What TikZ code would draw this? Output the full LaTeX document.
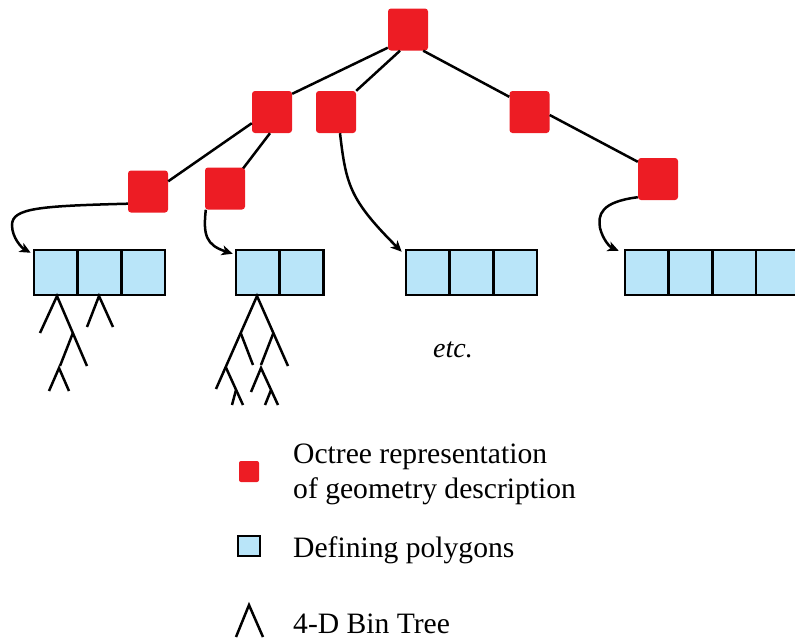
\documentclass[tikz,border=0pt]{standalone}
\usepackage{fontspec}
\setmainfont{Liberation Serif}
\usetikzlibrary{arrows.meta,calc}
\definecolor{octred}{RGB}{237,28,36}
\definecolor{polyblue}{RGB}{185,229,249}
\begin{document}
\begin{tikzpicture}[x=1pt,y=-1pt,
  oct/.style={fill=octred, rounded corners=3pt, minimum width=40pt, minimum height=42pt, inner sep=0pt},
  cell/.style={draw=black, fill=polyblue, line width=2.5pt, minimum width=43.7pt, minimum height=45pt, inner sep=0pt},
  link/.style={line width=2.5pt},
  curv/.style={line width=2.5pt, -{Stealth[length=11pt,width=10pt,inset=3pt]}},
  bin/.style={line width=2.5pt},
  lbl/.style={font=\fontsize{29.6}{35}\selectfont, anchor=base west, inner sep=0pt}
]
\useasboundingbox (0,0) rectangle (795,641);
\clip (0,0) rectangle (795,641);

% octree nodes
\node[oct] (root) at (408,29.5) {};
\node[oct] (lm) at (272,112) {};
\node[oct] (mm) at (336,112) {};
\node[oct] (rm) at (529.5,112) {};
\node[oct] (fr) at (658,179) {};
\node[oct] (la) at (148,191.5) {};
\node[oct] (lb) at (225,188.5) {};

% tree edges
\draw[link] ($(root.south west)+(0,-3)$) -- ($(lm.north east)+(0,3)$);
\draw[link] ($(root.south)+(-8,0)$) -- (mm.north east);
\draw[link] ($(root.south east)+(-5,0)$) -- ($(rm.north west)+(0,6)$);
\draw[link] ($(rm.east)+(0,3)$) -- ($(fr.north west)+(0,4)$);
\draw[link] ($(lm.south west)+(0,-10)$) -- ($(la.north east)+(0,11)$);
\draw[link] ($(lm.south)+(-2,0)$) -- ($(lb.north east)+(-2,1)$);

% polygon cells
\foreach \n/\x in {a1/55.8,a2/99.5,a3/143.2,b1/257.8,b2/301.5,c1/427.8,c2/471.5,c3/515.2,d1/646.8,d2/690.5,d3/734.2,d4/777.9}
  \node[cell] (\n) at (\x,272.5) {};

% curved arrows
\draw[curv] ($(la.south west)+(0,-9)$) .. controls (40,206) and (12,208) .. (12,225)
  .. controls (12,238) and (22,248) .. ($(a1.north west)+(-2,4)$);
\draw[curv] ($(lb.south west)+(1,0)$) .. controls (203,235) and (206,245) .. ($(b1.north west)+(-2,5)$);
\draw[curv] ($(mm.south)+(4,0)$) .. controls (346,185) and (350,200) .. ($(c1.north west)+(-3,3)$);
\draw[curv] ($(fr.south west)+(0,-3)$) .. controls (600,202) and (598,215) .. (600,228)
  .. controls (603,240) and (610,247) .. ($(d1.north west)+(-5,2)$);

% 4-D bin trees
\draw[bin] (40,333) -- (57,296) -- (87,366);
\draw[bin] (72.9,333) -- (60,366);
\draw[bin] (49,391) -- (59,368) -- (69,391);
\draw[bin] (87,327) -- (99,296) -- (113,327);

\draw[bin] (216,389) -- (257,296) -- (288,366);
\draw[bin] (240.7,333) -- (253,365);
\draw[bin] (225.7,367) -- (243,405);
\draw[bin] (236,390) -- (232,405);
\draw[bin] (273.4,333) -- (261,365);
\draw[bin] (251,392) -- (261,368) -- (278,405);
\draw[bin] (271,390) -- (265,405);

% etc.
\node[font=\fontsize{28}{34}\selectfont\itshape, anchor=base west, inner sep=0pt] (etc) at (433,357) {etc.};

% legend
\node[fill=octred, rounded corners=2pt, minimum width=20pt, minimum height=21pt, inner sep=0pt] (legoct) at (249,471.5) {};
\node[draw=black, fill=polyblue, line width=2.5pt, minimum width=22pt, minimum height=20pt, inner sep=0pt] (legcell) at (249,546) {};
\draw[bin] (236,637) -- (249,605) -- (263,637);

\node[lbl] (t1) at (293,463) {Octree representation};
\node[lbl] (t2) at (293,498) {of geometry description};
\node[lbl] (t3) at (293,557) {Defining polygons};
\node[lbl] (t4) at (293,633) {4-D Bin Tree};
\end{tikzpicture}
\end{document}
